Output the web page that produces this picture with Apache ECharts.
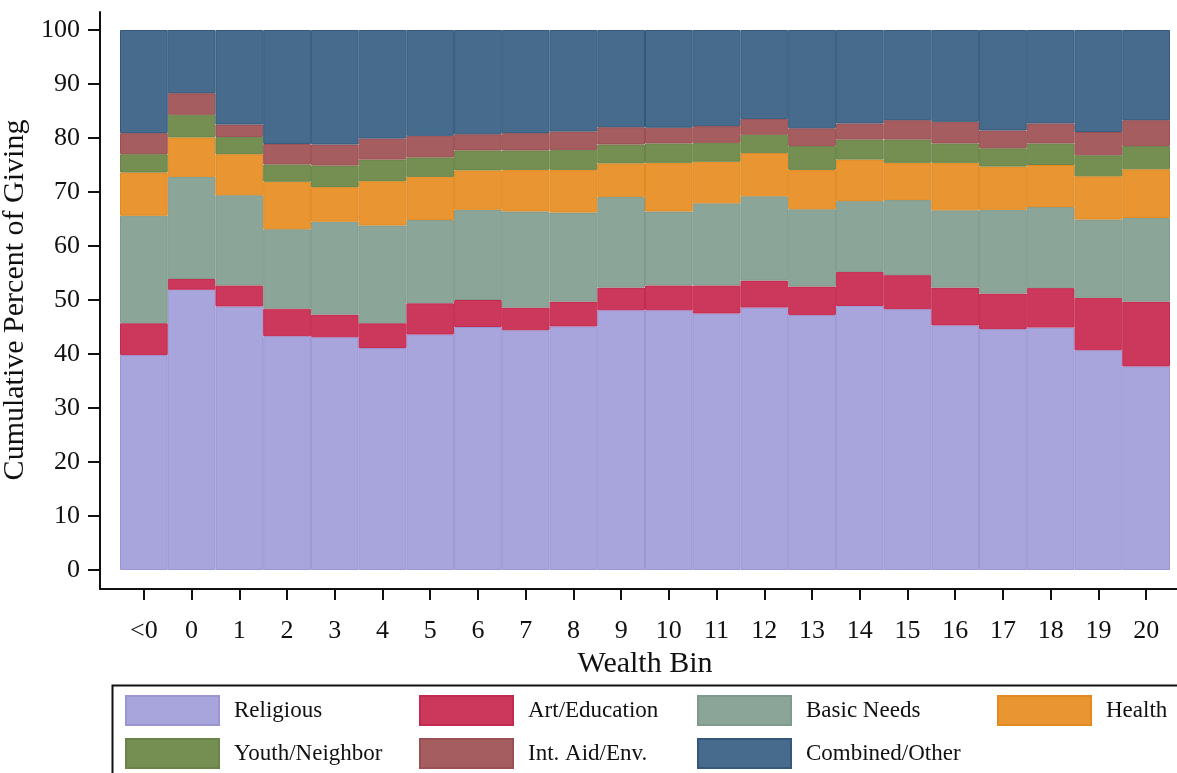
<!DOCTYPE html>
<html>
<head>
<meta charset="utf-8">
<script src="https://cdn.jsdelivr.net/npm/echarts@6/dist/echarts.min.js"></script>
<style>html,body{margin:0;padding:0;background:#fff;}#c{width:1177px;height:773px;}</style>
</head>
<body>
<div id="c"></div>
<script>
const bins = ['<0','0','1','2','3','4','5','6','7','8','9','10','11','12','13','14','15','16','17','18','19','20'];
const religious = [39.8,51.9,48.8,43.3,43.1,41.1,43.6,45.0,44.4,45.1,48.1,48.1,47.5,48.6,47.2,48.9,48.3,45.3,44.6,44.9,40.7,37.7];
const artEducation = [5.9,2.0,3.9,5.1,4.2,4.6,5.8,5.0,4.2,4.6,4.2,4.6,5.2,5.0,5.3,6.3,6.3,7.0,6.6,7.3,9.7,12.0];
const basicNeeds = [19.9,18.9,16.7,14.7,17.2,18.1,15.4,16.7,17.8,16.5,16.8,13.7,15.2,15.6,14.3,13.1,13.9,14.3,15.5,15.0,14.5,15.5];
const health = [8.0,7.3,7.6,8.8,6.4,8.2,8.0,7.3,7.7,7.9,6.2,9.0,7.7,8.0,7.3,7.7,6.9,8.8,8.0,7.8,8.0,9.0];
const youthNeighbor = [3.4,4.2,3.2,3.2,4.0,4.0,3.6,3.7,3.6,3.7,3.5,3.6,3.5,3.4,4.4,3.7,4.3,3.6,3.4,4.0,3.9,4.3];
const intAidEnv = [3.9,4.0,2.3,3.8,3.9,3.9,4.0,3.0,3.2,3.4,3.2,2.9,3.1,2.9,3.3,3.0,3.6,4.0,3.3,3.7,4.3,4.8];
const combinedOther = [19.1,11.7,17.5,21.1,21.2,20.1,19.6,19.3,19.1,18.8,18.0,18.1,17.8,16.5,18.2,17.3,16.7,17.0,18.6,17.3,18.9,16.7];

const seriesDefs = [
  {name:'Religious', data:religious, color:'#a8a4dc', border:'#9a95d3'},
  {name:'Art/Education', data:artEducation, color:'#cc375c', border:'#c42a50'},
  {name:'Basic Needs', data:basicNeeds, color:'#8ba598', border:'#7f9a8d'},
  {name:'Health', data:health, color:'#e89532', border:'#e08a20'},
  {name:'Youth/Neighbor', data:youthNeighbor, color:'#758f53', border:'#688448'},
  {name:'Int. Aid/Env.', data:intAidEnv, color:'#a55d5f', border:'#9a4f52'},
  {name:'Combined/Other', data:combinedOther, color:'#476b8c', border:'#35597b'}
];

const FONT = 'Liberation Serif';
const chart = echarts.init(document.getElementById('c'), null, {renderer:'canvas'});

const legendCols = [
  {left:125, data:['Religious','Youth/Neighbor']},
  {left:419, data:['Art/Education','Int. Aid/Env.']},
  {left:697, data:['Basic Needs','Combined/Other']},
  {left:997, data:['Health']}
];

const hiddenValueAxis = (g) => ({
  type:'value', gridIndex:g, min:0, max:1, show:false
});

chart.setOption({
  backgroundColor:'#ffffff',
  animation:false,
  grid:[
    {left:120, right:7, top:30, bottom:203, containLabel:false, outerBoundsMode:'none'},
    {left:100, right:0, top:12, bottom:184, containLabel:false, outerBoundsMode:'none'},
    {left:120, right:7, top:30, bottom:184, containLabel:false, outerBoundsMode:'none'}
  ],
  xAxis:[
    {type:'category', gridIndex:0, data:bins, boundaryGap:true, show:false},
    {
      type:'value', gridIndex:1, min:0, max:1,
      axisLine:{show:true, lineStyle:{color:'#111', width:2}},
      axisTick:{show:false}, axisLabel:{show:false}, splitLine:{show:false}
    },
    {
      type:'category', gridIndex:2, data:bins, boundaryGap:true,
      axisLine:{show:false},
      axisTick:{show:true, alignWithLabel:true, length:11, lineStyle:{color:'#111', width:2}},
      axisLabel:{margin:29, fontFamily:FONT, fontSize:26, color:'#111'},
      name:'Wealth Bin', nameLocation:'middle', nameGap:47,
      nameTextStyle:{fontFamily:FONT, fontSize:30, color:'#111'}
    }
  ],
  yAxis:[
    {
      type:'value', gridIndex:0, min:0, max:100, interval:10, offset:20,
      axisLine:{show:false},
      axisTick:{show:true, length:12, lineStyle:{color:'#111', width:2}},
      axisLabel:{margin:20, fontFamily:FONT, fontSize:26, color:'#111'},
      splitLine:{show:false},
      name:'Cumulative Percent of Giving', nameLocation:'middle', nameGap:57,
      nameTextStyle:{fontFamily:FONT, fontSize:30, color:'#111'}
    },
    {
      type:'value', gridIndex:1, min:0, max:1,
      axisLine:{show:true, lineStyle:{color:'#111', width:2}},
      axisTick:{show:false}, axisLabel:{show:false}, splitLine:{show:false}
    },
    hiddenValueAxis(2)
  ],
  legend: legendCols.map(c => ({
    orient:'vertical', left:c.left, top:695, padding:0,
    itemWidth:93, itemHeight:29, itemGap:12, icon:'rect',
    data:c.data, selectedMode:false,
    textStyle:{fontFamily:FONT, fontSize:23, color:'#111', padding:[0,0,0,10]}
  })),
  graphic:[
    {type:'rect', left:110, top:683, shape:{width:1100, height:120},
     style:{fill:'none', stroke:'#111', lineWidth:2}, silent:true}
  ],
  series: seriesDefs.map(s => ({
    type:'bar', name:s.name, data:s.data, stack:'total',
    xAxisIndex:0, yAxisIndex:0,
    barWidth:'100%', barCategoryGap:'0%',
    itemStyle:{color:s.color, borderColor:s.border, borderWidth:1},
    emphasis:{disabled:true}
  }))
});
</script>
</body>
</html>
